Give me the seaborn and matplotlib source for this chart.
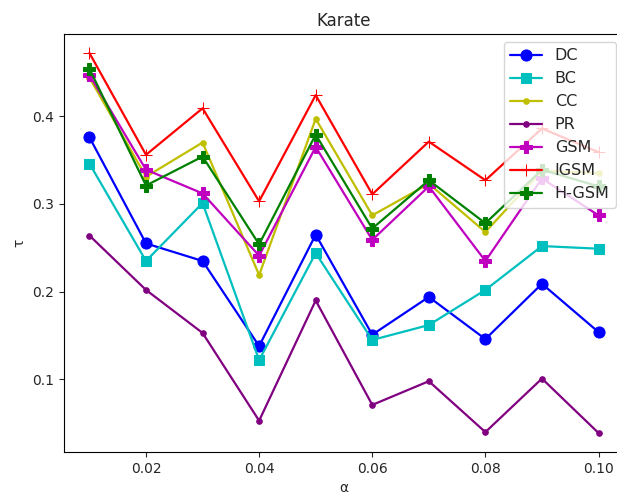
import matplotlib
matplotlib.use("Agg")
import matplotlib.pyplot as plt
import seaborn as sns
import pandas as pd

alpha = [0.01, 0.02, 0.03, 0.04, 0.05, 0.06, 0.07, 0.08, 0.09, 0.10]

dc = [0.376, 0.255, 0.235, 0.138, 0.265, 0.151, 0.194, 0.146, 0.209, 0.154]
bc = [0.346, 0.235, 0.301, 0.122, 0.244, 0.145, 0.162, 0.202, 0.252, 0.249]
cc = [0.444, 0.331, 0.370, 0.219, 0.397, 0.287, 0.323, 0.268, 0.338, 0.335]
pr = [0.264, 0.202, 0.153, 0.053, 0.190, 0.071, 0.098, 0.040, 0.101, 0.039]
gsm = [0.447, 0.339, 0.312, 0.241, 0.365, 0.259, 0.320, 0.235, 0.329, 0.287]
igsm = [0.472, 0.356, 0.409, 0.303, 0.424, 0.311, 0.371, 0.327, 0.386, 0.359]
hgsm = [0.454, 0.321, 0.354, 0.254, 0.379, 0.272, 0.327, 0.278, 0.339, 0.320]

series = [
    ("DC", dc, "b", "o", 8),
    ("BC", bc, "c", "s", 7),
    ("CC", cc, "y", ".", 8),
    ("PR", pr, "purple", ".", 8),
    ("GSM", gsm, "m", "P", 8),
    ("IGSM", igsm, "r", "+", 8),
    ("H-GSM", hgsm, "g", "P", 8),
]

sns.set_style("white")
plt.rcParams["axes.edgecolor"] = "black"
plt.rcParams["xtick.bottom"] = True
plt.rcParams["ytick.left"] = True

fig, ax = plt.subplots(figsize=(6.17, 4.95), dpi=100)
# the axes run slightly past the right edge of the canvas
fig.subplots_adjust(left=0.1037, right=1.0113, top=0.9313, bottom=0.0869)

for name, vals, color, marker, ms in series:
    df = pd.DataFrame({"alpha": alpha, "tau": vals})
    sns.lineplot(data=df, x="alpha", y="tau", ax=ax, color=color, marker=marker,
                 markersize=ms, markeredgecolor=color, linewidth=1.6, label=name)

ax.spines["right"].set_visible(False)
ax.set_title("Karate")
ax.set_xlabel("α")
ax.set_ylabel("τ")
ax.set_xticks([0.02, 0.04, 0.06, 0.08, 0.10])
ax.set_yticks([0.1, 0.2, 0.3, 0.4])
ax.legend(loc="upper right", fontsize=11.5, frameon=True, framealpha=0.8)

fig.savefig("out.png", dpi=100)
